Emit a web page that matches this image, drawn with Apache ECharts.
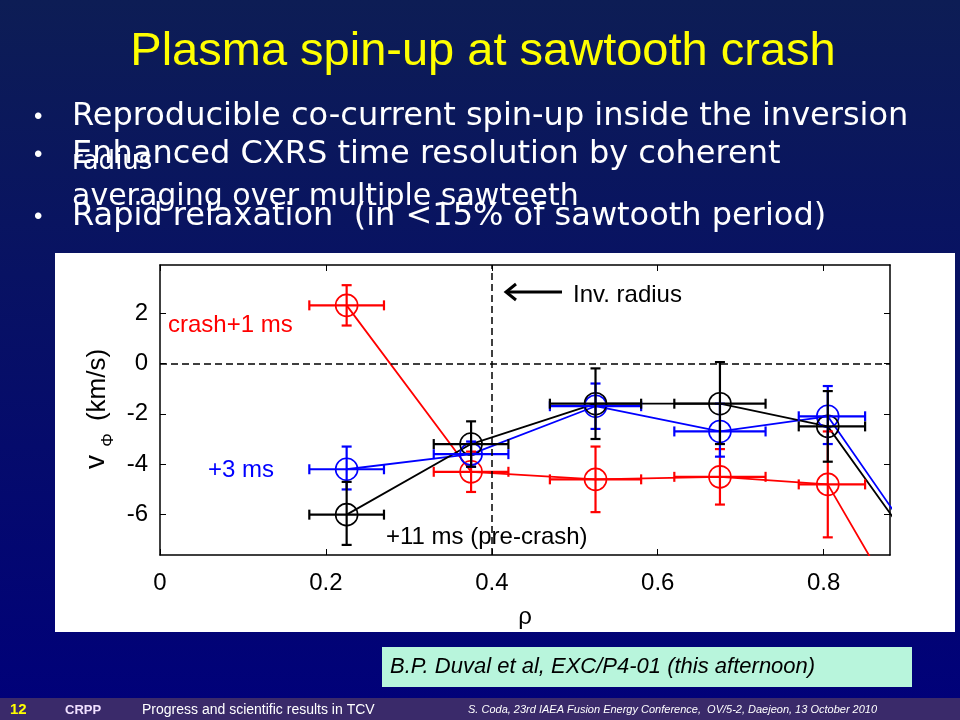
<!DOCTYPE html>
<html><head><meta charset="utf-8">
<script src="https://cdn.jsdelivr.net/npm/echarts@6/dist/echarts.min.js"></script>
<style>html,body{margin:0;padding:0;}#c{width:960px;height:720px;}</style>
</head><body><div id="c"></div>
<script>
const rho = [0.225, 0.375, 0.525, 0.675, 0.805];
const rhoErrLo = [0.18, 0.33, 0.47, 0.62, 0.77];
const rhoErrHi = [0.27, 0.42, 0.58, 0.73, 0.85];
const redV = [2.3, -4.3, -4.6, -4.5, -4.8];
const redLo = [1.5, -5.1, -5.9, -5.6, -6.9];
const redHi = [3.1, -3.5, -3.3, -3.4, -2.7];
const blueV = [-4.2, -3.6, -1.7, -2.7, -2.1];
const blueLo = [-5.0, -4.1, -2.6, -3.7, -3.2];
const blueHi = [-3.3, -3.1, -0.8, -1.6, -0.9];
const blackV = [-6.0, -3.2, -1.6, -1.6, -2.5];
const blackLo = [-7.2, -4.1, -3.0, -3.2, -3.9];
const blackHi = [-4.7, -2.3, -0.2, 0.05, -1.1];
const redTail = [0.95, -13];
const blueTail = [0.9, -6.6];
const blackTail = [0.89, -6.4];
const xTicks = [0, 0.2, 0.4, 0.6, 0.8];
const yTicks = [-6, -4, -2, 0, 2];

const chart = echarts.init(document.getElementById('c'));
function lineSeries(v, tail, color) {
  const d = rho.map((x, i) => [x, v[i]]); d.push(tail);
  return {type:'line', data:d, symbol:'circle', symbolSize:(val, p)=> p.dataIndex<rho.length?22:0,
    itemStyle:{color:'transparent', borderColor:color, borderWidth:1.6},
    lineStyle:{color:color, width:1.8}, clip:true, z:3};
}
function errSeries(v, lo, hi, xl, xh, color) {
  const d = rho.map((x, i) => [x, v[i], lo[i], hi[i], xl[i], xh[i]]);
  return {type:'custom', clip:true, z:4, data:d,
    renderItem:(params, api) => {
      const c = api.coord([api.value(0), api.value(1)]);
      const lo = api.coord([api.value(0), api.value(2)]);
      const hi = api.coord([api.value(0), api.value(3)]);
      const l = api.coord([api.value(4), api.value(1)]);
      const h = api.coord([api.value(5), api.value(1)]);
      const st = {stroke:color, lineWidth:2.2};
      const cap = 5;
      return {type:'group', children:[
        {type:'line', shape:{x1:c[0],y1:lo[1],x2:c[0],y2:hi[1]}, style:st},
        {type:'line', shape:{x1:c[0]-cap,y1:lo[1],x2:c[0]+cap,y2:lo[1]}, style:st},
        {type:'line', shape:{x1:c[0]-cap,y1:hi[1],x2:c[0]+cap,y2:hi[1]}, style:st},
        {type:'line', shape:{x1:l[0],y1:c[1],x2:h[0],y2:c[1]}, style:st},
        {type:'line', shape:{x1:l[0],y1:c[1]-cap,x2:l[0],y2:c[1]+cap}, style:st},
        {type:'line', shape:{x1:h[0],y1:c[1]-cap,x2:h[0],y2:c[1]+cap}, style:st}
      ]};
    }};
}
const BF = '"DejaVu Sans", sans-serif';
const bullets = [
  ['Reproducible co-current spin-up inside the inversion', 117],
  ['Enhanced CXRS time resolution by coherent', 155],
  ['Rapid relaxation  (in <15% of sawtooth period)', 217]
];
const NF = '"Liberation Sans Narrow", "Liberation Sans", sans-serif';
const g = [
  {type:'rect', shape:{x:0,y:0,width:960,height:720}, style:{fill:new echarts.graphic.LinearGradient(0,0,0,1,[{offset:0,color:'#0d1d55'},{offset:1,color:'#00007a'}])}, z:-10},
  {type:'rect', shape:{x:55,y:253,width:900,height:379}, style:{fill:'#fff'}, z:-9},
  {type:'text', x:483, y:52, style:{text:'Plasma spin-up at sawtooth crash', fill:'#ffff00', font:'47px "Liberation Sans", Arial, sans-serif', textAlign:'center', textVerticalAlign:'middle'}},
  {type:'text', x:72, y:162, style:{text:'radius', fill:'#fff', font:'26px '+BF, textVerticalAlign:'middle'}},
  {type:'text', x:72, y:197, style:{text:'averaging over multiple sawteeth', fill:'#fff', font:'30px '+BF, textVerticalAlign:'middle'}},
  {type:'rect', shape:{x:382,y:647,width:530,height:40}, style:{fill:'#b8f5dc'}},
  {type:'text', x:390, y:667, style:{text:'B.P. Duval et al, EXC/P4-01 (this afternoon)', fill:'#000', font:'italic 22px '+NF, textVerticalAlign:'middle'}},
  {type:'rect', shape:{x:0,y:698,width:960,height:22}, style:{fill:'#3a2a6a'}},
  {type:'text', x:10, y:710, style:{text:'12', fill:'#ffff00', font:'bold 15px "Liberation Sans", sans-serif', textVerticalAlign:'middle'}},
  {type:'text', x:65, y:710, style:{text:'CRPP', fill:'#f0e0ff', font:'bold 13px '+NF, textVerticalAlign:'middle'}},
  {type:'text', x:142, y:710, style:{text:'Progress and scientific results in TCV', fill:'#fff', font:'14px '+NF, textVerticalAlign:'middle'}},
  {type:'text', x:468, y:710, style:{text:'S. Coda, 23rd IAEA Fusion Energy Conference,  OV/5-2, Daejeon, 13 October 2010', fill:'#fff', font:'italic 11px '+NF, textVerticalAlign:'middle'}},
  {type:'text', x:168, y:325, style:{text:'crash+1 ms', fill:'#ff0000', font:'24px '+NF, textVerticalAlign:'middle'}, z:10},
  {type:'text', x:208, y:470, style:{text:'+3 ms', fill:'#0000ff', font:'24px '+NF, textVerticalAlign:'middle'}, z:10},
  {type:'text', x:386, y:537, style:{text:'+11 ms (pre-crash)', fill:'#000', font:'24px '+NF, textVerticalAlign:'middle'}, z:10},
  {type:'text', x:573, y:295, style:{text:'Inv. radius', fill:'#000', font:'24px '+NF, textVerticalAlign:'middle'}, z:10},
  {type:'line', shape:{x1:508,y1:292,x2:562,y2:292}, style:{stroke:'#000', lineWidth:3}, z:10},
  {type:'polyline', shape:{points:[[516,284],[506,292],[516,300]]}, style:{stroke:'#000', lineWidth:3, fill:null}, z:10},
  {type:'text', x:96, y:462, rotation:Math.PI/2, style:{text:'v', fill:'#000', font:'28px "Liberation Sans", sans-serif', textAlign:'center', textVerticalAlign:'middle'}, z:10},
  {type:'text', x:108, y:440, rotation:Math.PI/2, style:{text:'Φ', fill:'#000', font:'17px "Liberation Sans", sans-serif', textAlign:'center', textVerticalAlign:'middle'}, z:10},
  {type:'text', x:98, y:385, rotation:Math.PI/2, style:{text:'(km/s)', fill:'#000', font:'26px '+NF, textAlign:'center', textVerticalAlign:'middle'}, z:10}
];
bullets.forEach(b => {
  g.push({type:'text', x:34, y:b[1], style:{text:'•', fill:'#fff', font:'24px "Liberation Sans", sans-serif', textVerticalAlign:'middle'}});
  g.push({type:'text', x:72, y:b[1], style:{text:b[0], fill:'#fff', font:'32px '+BF, textVerticalAlign:'middle'}});
});
const axFont = {color:'#000', fontSize:24, fontFamily:NF};
const line = {show:true, onZero:false, lineStyle:{color:'#000', width:1.5}};
const tick = (cv) => ({inside:true, length:6, customValues:cv, lineStyle:{color:'#000'}});
chart.setOption({
  animation:false,
  graphic:g,
  grid:{left:160, right:70, top:265, bottom:165, show:false},
  xAxis:[
    {type:'value', min:0, max:0.88, name:'ρ', nameLocation:'middle', nameGap:50, nameTextStyle:{color:'#000', fontSize:24},
     axisLine:line, axisTick:tick(xTicks), axisLabel:Object.assign({margin:16, customValues:xTicks}, axFont), splitLine:{show:false}},
    {type:'value', position:'top', min:0, max:0.88, axisLine:line, axisTick:tick(xTicks), axisLabel:{show:false}, splitLine:{show:false}}
  ],
  yAxis:[
    {type:'value', min:-7.6, max:3.9, axisLine:line, axisTick:tick(yTicks),
     axisLabel:Object.assign({margin:12, customValues:yTicks}, axFont), splitLine:{show:false}},
    {type:'value', position:'right', min:-7.6, max:3.9, axisLine:line, axisTick:tick(yTicks), axisLabel:{show:false}, splitLine:{show:false}}
  ],
  series:[
    {type:'line', data:[], markLine:{silent:true, symbol:'none', label:{show:false}, lineStyle:{color:'#000', type:[7,4], width:1.5},
      data:[{yAxis:0},{xAxis:0.4}]}},
    lineSeries(redV, redTail, '#ff0000'),
    lineSeries(blueV, blueTail, '#0000ff'),
    lineSeries(blackV, blackTail, '#000000'),
    errSeries(redV, redLo, redHi, rhoErrLo, rhoErrHi, '#ff0000'),
    errSeries(blueV, blueLo, blueHi, rhoErrLo, rhoErrHi, '#0000ff'),
    errSeries(blackV, blackLo, blackHi, rhoErrLo, rhoErrHi, '#000000')
  ]
});
</script></body></html>
